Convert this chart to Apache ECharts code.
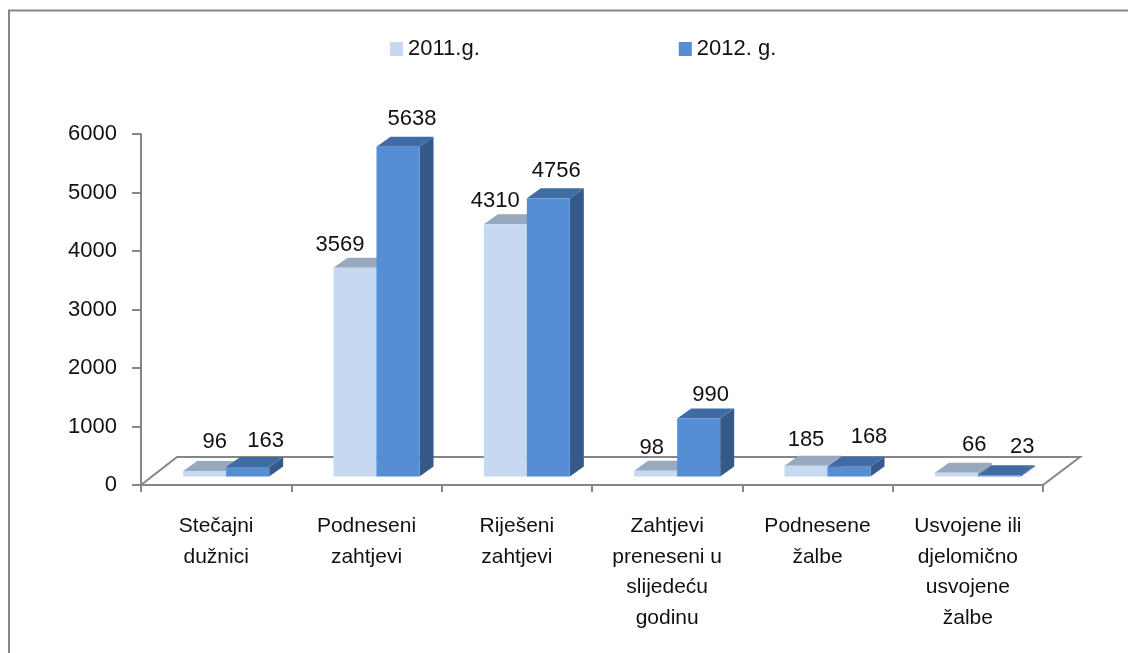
<!DOCTYPE html>
<html>
<head>
<meta charset="utf-8">
<title>Stečajni zahtjevi</title>
<script src="https://cdn.jsdelivr.net/npm/echarts@6/dist/echarts.min.js"></script>
<style>
  html, body { margin: 0; padding: 0; background: #fff; }
  #chart { width: 1128px; height: 653px; }
</style>
</head>
<body>
<div id="chart"></div>
<script>
var categories = [
    'Stečajni\ndužnici',
    'Podneseni\nzahtjevi',
    'Riješeni\nzahtjevi',
    'Zahtjevi\npreneseni u\nslijedeću\ngodinu',
    'Podnesene\nžalbe',
    'Usvojene ili\ndjelomično\nusvojene\nžalbe'
];
var values2011 = [96, 3569, 4310, 98, 185, 66];
var values2012 = [163, 5638, 4756, 990, 168, 23];
var yTicks = [0, 1000, 2000, 3000, 4000, 5000, 6000];

// label nudges from the bar centre, the original placed them by hand
var nudge2011 = [[10, -29], [-15, -23], [-10, -23], [-4, -23], [0, -26], [18, -28]];
var nudge2012 = [[18, -26], [14, -28], [8, -27], [12, -24], [20, -30], [23, -28]];

var FONT = '"Liberation Sans", sans-serif';
var DEPTH_X = 14, DEPTH_Y = 10;
var FLOOR_X = 10, FLOOR_Y = 8.5;
var BAR_W = 43;

function poly(points, color) {
    return { type: 'polygon', shape: { points: points }, style: { fill: color }, silent: true };
}

function barRenderer(side, colors, nudges) {
    return function (params, api) {
        var idx = api.value(0);
        var top = api.coord([idx, api.value(1)]);
        var bottom = api.coord([idx, 0]);
        var cx = top[0] + FLOOR_X;
        var x0 = side < 0 ? cx - BAR_W : cx;
        var x1 = x0 + BAR_W;
        var yT = top[1] - FLOOR_Y;
        var yB = bottom[1] - FLOOR_Y;
        var n = nudges[idx];
        return {
            type: 'group',
            children: [
                poly([[x1, yT], [x1 + DEPTH_X, yT - DEPTH_Y], [x1 + DEPTH_X, yB - DEPTH_Y], [x1, yB]], colors.side),
                poly([[x0, yT], [x0 + DEPTH_X, yT - DEPTH_Y], [x1 + DEPTH_X, yT - DEPTH_Y], [x1, yT]], colors.top),
                poly([[x0, yT], [x1, yT], [x1, yB], [x0, yB]], colors.front),
                {
                    type: 'text',
                    z2: 50,
                    style: {
                        x: (x0 + x1) / 2 + n[0],
                        y: yT + n[1],
                        text: String(api.value(1)),
                        font: '22px ' + FONT,
                        fill: '#111',
                        align: 'center',
                        verticalAlign: 'middle'
                    }
                }
            ]
        };
    };
}

function floorRenderer(params, api) {
    var c = params.coordSys;
    var yF = c.y + c.height, yB = yF - 28;
    var xL = c.x, xR = c.x + c.width;
    return {
        type: 'polyline',
        shape: { points: [[xL, yF], [xL + 36, yB], [xR + 37, yB], [xR, yF]] },
        style: { stroke: '#868686', lineWidth: 2, fill: 'none' },
        silent: true
    };
}

function withIndex(list) {
    return list.map(function (v, i) { return [i, v]; });
}

var chart = echarts.init(document.getElementById('chart'));

var option = {
    animation: false,
    backgroundColor: '#fff',
    graphic: [{
        type: 'polyline',
        shape: { points: [[9, 653], [9, 10.5], [1128, 10.5]] },
        style: { stroke: '#868686', lineWidth: 2, fill: 'none' },
        silent: true
    }],
    legend: {
        left: 385,
        top: 33,
        itemWidth: 13,
        itemHeight: 14,
        itemGap: 199,
        icon: 'rect',
        selectedMode: false,
        textStyle: { fontFamily: FONT, fontSize: 22, color: '#111' },
        data: ['2011.g.', '2012. g.']
    },
    grid: { left: 141, top: 134, width: 902, height: 351, containLabel: false },
    xAxis: {
        type: 'category',
        data: categories,
        axisLine: { lineStyle: { color: '#868686', width: 2 } },
        axisTick: { show: true, length: 7, lineStyle: { color: '#868686', width: 2 } },
        axisLabel: {
            interval: 0,
            margin: 26,
            fontFamily: FONT,
            fontSize: 21,
            lineHeight: 30.5,
            color: '#111'
        },
        splitLine: { show: false }
    },
    yAxis: {
        type: 'value',
        min: yTicks[0],
        max: yTicks[yTicks.length - 1],
        interval: yTicks[1] - yTicks[0],
        axisLine: { show: true, lineStyle: { color: '#868686', width: 2 } },
        axisTick: { show: true, length: 9, lineStyle: { color: '#868686', width: 2 } },
        axisLabel: {
            margin: 24,
            padding: [3, 0, 0, 0],
            fontFamily: FONT,
            fontSize: 22,
            color: '#111',
            formatter: function (v) { return String(v); }
        },
        splitLine: { show: false }
    },
    series: [{
        type: 'custom',
        data: [[0, 0]],
        renderItem: floorRenderer,
        silent: true,
        z: 1
    }, {
        name: '2011.g.',
        type: 'custom',
        data: withIndex(values2011),
        encode: { x: 0, y: 1 },
        itemStyle: { color: '#C6D9F1' },
        renderItem: barRenderer(-1, { front: '#C6D9F1', top: '#98A9BF', side: '#8E9FB5' }, nudge2011),
        z: 2
    }, {
        name: '2012. g.',
        type: 'custom',
        data: withIndex(values2012),
        encode: { x: 0, y: 1 },
        itemStyle: { color: '#558ED5' },
        renderItem: barRenderer(1, { front: '#558ED5', top: '#3F6CA3', side: '#355A8A' }, nudge2012),
        z: 3
    }]
};

chart.setOption(option);
</script>
</body>
</html>
